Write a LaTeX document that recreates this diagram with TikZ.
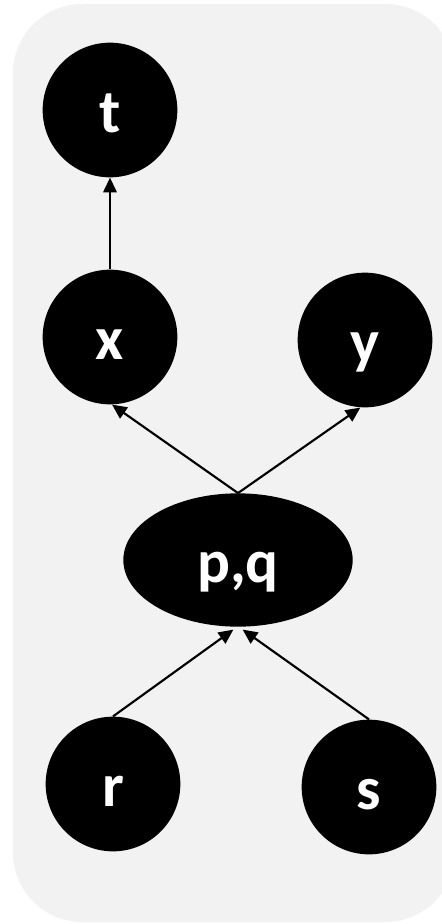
\documentclass[tikz,border=0pt]{standalone}
\usepackage{fontspec}
\setmainfont{Carlito}
\usetikzlibrary{shapes.geometric,arrows.meta}
\definecolor{panel}{HTML}{F2F2F2}
\begin{document}
\begin{tikzpicture}[x=0.75pt,y=-0.75pt,
  lettering/.style={text=white,font=\fontsize{46}{50}\selectfont\bfseries,
    text height=33pt,text depth=0pt},
  var/.style={circle,fill=black,inner sep=0pt,minimum size=101pt,lettering},
  joint/.style={ellipse,fill=black,inner sep=0pt,minimum width=172pt,minimum height=100pt,lettering},
  link/.style={line width=1.6pt,-{Triangle[length=11pt,width=10pt]}}]
  \useasboundingbox (0,0) rectangle (442,924);
  % grey panel behind the graph
  \fill[panel,rounded corners=52pt] (13,4) rectangle (455,922);
  % variables
  \node[var] (t) at (110,110) {t};
  \node[var] (x) at (110,337) {x};
  \node[var] (y) at (365,340) {y};
  \node[joint] (pq) at (238,560) {p,q};
  \node[var] (r) at (113,784) {r};
  \node[var] (s) at (369,787) {s};
  % dependencies
  \draw[link] (x.north) -- (t.south);
  \draw[link] (pq.north) -- ([xshift=1.5pt]x.south);
  \draw[link] (pq.north) -- ([xshift=-3.5pt]y.south);
  \draw[link] (r.north) -- ([xshift=-3.5pt,yshift=-2pt]pq.south);
  \draw[link] (s.north) -- ([xshift=3.5pt,yshift=-2pt]pq.south);
\end{tikzpicture}
\end{document}
